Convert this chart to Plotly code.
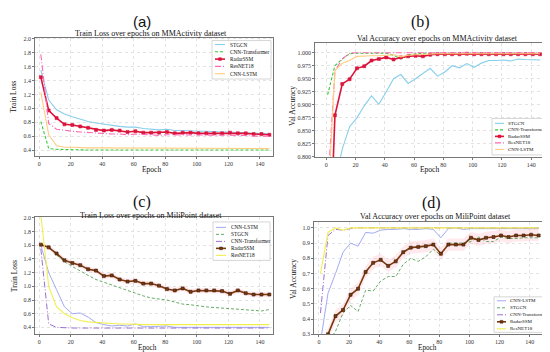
import plotly.graph_objects as go

W, H = 550, 352
epochs = list(range(1, 147, 5))

# ---------- (a) Train loss, MMActivity ----------
a_stgcn = [1.55, 1.12, 0.98, 0.92, 0.88, 0.84, 0.81, 0.79, 0.77, 0.75,
           0.74, 0.73, 0.73, 0.71, 0.70, 0.69, 0.70, 0.68, 0.68, 0.67,
           0.67, 0.67, 0.66, 0.66, 0.66, 0.65, 0.65, 0.64, 0.64, 0.63]
a_trans = [0.81, 0.42, 0.41, 0.405, 0.40, 0.40, 0.40, 0.40, 0.40, 0.40,
           0.40, 0.40, 0.40, 0.40, 0.40, 0.40, 0.40, 0.40, 0.40, 0.40,
           0.40, 0.40, 0.40, 0.40, 0.40, 0.40, 0.40, 0.40, 0.40, 0.40]
a_radar = [1.45, 0.97, 0.86, 0.77, 0.76, 0.74, 0.72, 0.69, 0.68, 0.69,
           0.68, 0.66, 0.67, 0.65, 0.65, 0.65, 0.66, 0.64, 0.65, 0.65,
           0.64, 0.64, 0.64, 0.64, 0.65, 0.64, 0.64, 0.63, 0.63, 0.62]
a_res = [1.78, 0.78, 0.70, 0.68, 0.67, 0.66, 0.65, 0.64, 0.64, 0.63,
         0.63, 0.62, 0.63, 0.62, 0.62, 0.61, 0.62, 0.62, 0.61, 0.61,
         0.61, 0.61, 0.61, 0.61, 0.61, 0.61, 0.61, 0.60, 0.60, 0.60]
a_lstm = [1.23, 0.62, 0.46, 0.44, 0.44, 0.43, 0.43, 0.43, 0.43, 0.43,
          0.43, 0.43, 0.43, 0.43, 0.43, 0.42, 0.42, 0.42, 0.42, 0.42,
          0.42, 0.42, 0.42, 0.42, 0.42, 0.42, 0.42, 0.42, 0.42, 0.42]

# ---------- (b) Val accuracy, MMActivity ----------
b_stgcn = [0.60, 0.75, 0.815, 0.858, 0.875, 0.898, 0.917, 0.901, 0.925, 0.950,
           0.958, 0.941, 0.950, 0.960, 0.970, 0.955, 0.963, 0.975, 0.971, 0.979,
           0.972, 0.980, 0.985, 0.985, 0.986, 0.984, 0.988, 0.987, 0.986, 0.986]
b_trans = [0.919, 0.975, 0.988, 0.998, 0.999, 0.999, 1.000, 0.999, 0.999, 0.995,
           0.988, 0.996, 0.998, 0.999, 0.999, 0.999, 0.999, 0.999, 0.999, 0.999,
           0.999, 0.999, 0.999, 0.999, 0.999, 0.999, 0.999, 0.999, 0.999, 0.999]
b_radar = [0.50, 0.880, 0.940, 0.949, 0.970, 0.974, 0.985, 0.988, 0.991, 0.987,
           0.991, 0.993, 0.994, 0.993, 0.996, 0.997, 0.997, 0.997, 0.997, 0.998,
           0.997, 0.997, 0.997, 0.997, 0.997, 0.997, 0.997, 0.997, 0.997, 0.997]
b_res = [0.74, 0.965, 0.988, 0.999, 1.000, 1.000, 1.000, 1.000, 1.000, 1.000,
         1.000, 1.000, 1.000, 1.000, 1.000, 1.000, 1.000, 1.000, 1.000, 1.000,
         1.000, 1.000, 1.000, 1.000, 1.000, 1.000, 1.000, 1.000, 1.000, 1.000]
b_lstm = [0.70, 0.965, 0.980, 0.985, 0.993, 0.994, 0.994, 0.994, 0.995, 0.996,
          0.992, 0.995, 0.996, 0.997, 0.998, 0.998, 0.998, 0.998, 0.998, 0.998,
          0.998, 0.998, 0.998, 0.998, 0.998, 0.998, 0.998, 0.998, 0.998, 0.998]

# ---------- (c) Train loss, MiliPoint ----------
c_lstm = [1.60, 1.20, 0.95, 0.70, 0.60, 0.61, 0.55, 0.47, 0.44, 0.42,
          0.43, 0.42, 0.45, 0.41, 0.41, 0.41, 0.42, 0.40, 0.40, 0.40,
          0.40, 0.40, 0.40, 0.40, 0.40, 0.40, 0.40, 0.40, 0.40, 0.40]
c_stgcn = [1.62, 1.57, 1.46, 1.36, 1.29, 1.22, 1.16, 1.10, 1.06, 1.01,
           0.98, 0.94, 0.89, 0.86, 0.83, 0.82, 0.80, 0.77, 0.74, 0.73,
           0.71, 0.70, 0.69, 0.68, 0.67, 0.67, 0.66, 0.65, 0.64, 0.66]
c_trans = [1.55, 0.45, 0.40, 0.39, 0.39, 0.39, 0.39, 0.39, 0.39, 0.39,
           0.39, 0.39, 0.39, 0.39, 0.39, 0.39, 0.39, 0.39, 0.39, 0.39,
           0.39, 0.39, 0.39, 0.39, 0.39, 0.39, 0.39, 0.39, 0.39, 0.39]
c_radar = [1.61, 1.57, 1.48, 1.38, 1.34, 1.31, 1.25, 1.23, 1.15, 1.16,
           1.10, 1.07, 1.08, 1.04, 1.04, 1.01, 0.96, 0.94, 0.97, 0.92,
           0.94, 0.94, 0.94, 0.93, 0.89, 0.94, 0.90, 0.88, 0.88, 0.88]
c_res = [2.05, 1.00, 0.70, 0.60, 0.54, 0.50, 0.48, 0.47, 0.46, 0.45,
         0.45, 0.45, 0.44, 0.44, 0.44, 0.44, 0.44, 0.44, 0.44, 0.44,
         0.44, 0.44, 0.44, 0.44, 0.44, 0.44, 0.44, 0.44, 0.44, 0.44]

# ---------- (d) Val accuracy, MiliPoint ----------
d_lstm = [0.25, 0.57, 0.70, 0.84, 0.90, 0.88, 0.97, 0.965, 0.985, 0.99,
          0.99, 0.995, 0.99, 0.99, 0.995, 0.99, 0.935, 0.995, 1.0, 0.99,
          0.995, 0.995, 0.995, 0.995, 0.995, 0.995, 0.995, 0.995, 0.995, 0.995]
d_stgcn = [0.15, 0.25, 0.32, 0.44, 0.49, 0.45, 0.59, 0.585, 0.65, 0.68,
           0.68, 0.76, 0.80, 0.78, 0.81, 0.86, 0.82, 0.90, 0.90, 0.90,
           0.91, 0.94, 0.91, 0.91, 0.94, 0.93, 0.93, 0.935, 0.935, 0.935]
d_trans = [0.44, 0.95, 0.99, 0.985, 0.995, 1.0, 1.0, 1.0, 1.0, 1.0,
           1.0, 1.0, 1.0, 1.0, 1.0, 1.0, 1.0, 1.0, 1.0, 1.0,
           1.0, 1.0, 1.0, 1.0, 1.0, 1.0, 1.0, 1.0, 1.0, 1.0]
d_radar = [0.20, 0.30, 0.42, 0.46, 0.56, 0.60, 0.71, 0.77, 0.79, 0.75,
           0.78, 0.84, 0.87, 0.875, 0.88, 0.89, 0.83, 0.89, 0.89, 0.89,
           0.935, 0.92, 0.935, 0.94, 0.95, 0.94, 0.95, 0.95, 0.955, 0.95]
d_res = [0.70, 0.97, 1.0, 0.985, 1.0, 1.0, 1.0, 1.0, 1.0, 1.0,
         1.0, 1.0, 1.0, 1.0, 1.0, 1.0, 1.0, 1.0, 1.0, 1.0,
         1.0, 1.0, 1.0, 1.0, 1.0, 1.0, 1.0, 1.0, 1.0, 1.0]

band_c = 0.04
band_d = 0.04

SERIF = "Liberation Serif"
SANS = "Liberation Sans"

sty_ab = {
    "STGCN": dict(color="#87CEEB", width=1.1, dash="solid", marker=False),
    "CNN-Transformer": dict(color="#33CC33", width=1.1, dash="3px,2px", marker=False),
    "RadarSSM": dict(color="#DC143C", width=1.6, dash="solid", marker=True),
    "ResNET18": dict(color="#FF69B4", width=1.1, dash="6px,2px,1px,2px", marker=False),
    "CNN-LSTM": dict(color="#FFCC80", width=1.1, dash="solid", marker=False),
}
sty_cd = {
    "CNN-LSTM": dict(color="#A3A9F2", width=1.0, dash="solid", marker=False),
    "STGCN": dict(color="#66AA66", width=1.0, dash="3px,2px", marker=False),
    "CNN-Transformer": dict(color="#9B6FD0", width=1.0, dash="6px,2px,1px,2px", marker=False),
    "RadarSSM": dict(color="#7A3A10", width=1.6, dash="solid", marker=True),
    "ResNET18": dict(color="#F2EE4E", width=1.1, dash="solid", marker=False),
}

def px(x):
    return x / W

def py(y):
    return 1 - y / H

fig = go.Figure()

panels = [
    ("", (27, 265), (28, 148), [-2.7, 148.3], [0.315, 2.02],
     [("STGCN", a_stgcn), ("CNN-Transformer", a_trans), ("RadarSSM", a_radar),
      ("ResNET18", a_res), ("CNN-LSTM", a_lstm)], sty_ab),
    ("2", (307, 540), (33, 149), [-7.6, 151.4], [0.8, 1.0195],
     [("STGCN", b_stgcn), ("CNN-Transformer", b_trans), ("RadarSSM", b_radar),
      ("ResNET18", b_res), ("CNN-LSTM", b_lstm)], sty_ab),
    ("3", (27, 265), (210, 329), [-2.7, 148.3], [0.298, 2.014],
     [("CNN-LSTM", c_lstm), ("STGCN", c_stgcn), ("CNN-Transformer", c_trans),
      ("RadarSSM", c_radar), ("ResNET18", c_res)], sty_cd),
    ("4", (306, 543), (215, 329), [-3.3, 154.2], [0.3, 1.039],
     [("CNN-LSTM", d_lstm), ("STGCN", d_stgcn), ("CNN-Transformer", d_trans),
      ("RadarSSM", d_radar), ("ResNET18", d_res)], sty_cd),
]

ytick_specs = [
    dict(tickvals=[0.4, 0.6, 0.8, 1.0, 1.2, 1.4, 1.6, 1.8, 2.0], tickformat=".1f"),
    dict(tickvals=[0.800, 0.825, 0.850, 0.875, 0.900, 0.925, 0.950, 0.975, 1.000], tickformat=".3f"),
    dict(tickvals=[0.4, 0.6, 0.8, 1.0, 1.2, 1.4, 1.6, 1.8, 2.0], tickformat=".1f"),
    dict(tickvals=[0.3, 0.4, 0.5, 0.6, 0.7, 0.8, 0.9, 1.0], tickformat=".1f"),
]

layout_axes = {}
for idx, (k, xd, yd, xr, yr, series, sty) in enumerate(panels):
    xa, ya = "x" + k, "y" + k
    if idx in (2, 3):
        radar = dict(series)["RadarSSM"]
        bw = band_c if idx == 2 else band_d
        fig.add_trace(go.Scatter(x=epochs, y=[v + bw for v in radar], mode="lines",
                                 line=dict(width=0), hoverinfo="skip", showlegend=False,
                                 xaxis=xa, yaxis=ya))
        fig.add_trace(go.Scatter(x=epochs, y=[v - bw for v in radar], mode="lines",
                                 line=dict(width=0), fill="tonexty",
                                 fillcolor="rgba(255,182,193,0.3)", hoverinfo="skip",
                                 showlegend=False, xaxis=xa, yaxis=ya))
    for name, vals in series:
        s = sty[name]
        fig.add_trace(go.Scatter(
            x=epochs, y=vals, name=name, showlegend=False,
            mode="lines+markers" if s["marker"] else "lines",
            line=dict(color=s["color"], width=s["width"], dash=s["dash"]),
            marker=dict(symbol="square", size=3, color=s["color"],
                        line=dict(width=0.6, color="#3a1a08" if idx >= 2 else s["color"])),
            xaxis=xa, yaxis=ya))
    axis_common = dict(showline=True, mirror=True, linecolor="#777777", linewidth=0.8,
                       showgrid=True, gridcolor="#e3e3e3", griddash="dot", gridwidth=0.6,
                       ticks="outside", ticklen=2, tickwidth=0.6, tickcolor="#777777",
                       zeroline=False, tickfont=dict(family=SERIF, size=6, color="#333333"))
    layout_axes["xaxis" + k] = dict(axis_common, domain=[px(xd[0]), px(xd[1])], range=xr,
                                    anchor=ya, tickvals=[0, 20, 40, 60, 80, 100, 120, 140])
    layout_axes["yaxis" + k] = dict(axis_common, domain=[py(yd[1]), py(yd[0])], range=yr,
                                    anchor=xa, **ytick_specs[idx])

fig.update_layout(width=W, height=H, margin=dict(l=0, r=0, t=0, b=0),
                  paper_bgcolor="white", plot_bgcolor="white", showlegend=False,
                  **layout_axes)

def ann(x, y, text, size, family=SERIF, angle=0, xanchor="center"):
    fig.add_annotation(x=px(x), y=py(y), xref="paper", yref="paper", text=text,
                       showarrow=False, xanchor=xanchor, yanchor="middle", textangle=angle,
                       borderpad=0, font=dict(family=family, size=size, color="#111111"))

ann(134, 12, "(a)", 15, family=SANS)
ann(412, 12, "(b)", 16)
ann(134, 195, "(c)", 16)
ann(423, 196, "(d)", 16)
ann(143, 24, "Train Loss over epochs on MMActivity dataset", 8)
ann(429, 29, "Val Accuracy over epochs on MMActivity dataset", 8)
ann(143, 208, "Train Loss over epochs on MiliPoint dataset", 8)
ann(427, 209, "Val Accuracy over epochs on MiliPoint dataset", 8)
ann(6, 88, "Train Loss", 7.5, angle=-90)
ann(143, 162, "Epoch", 7.5)
ann(284.5, 97, "Val Accuracy", 7.5, angle=-90)
ann(421, 162, "Epoch", 7.5)
ann(6, 270, "Train Loss", 7.5, angle=-90)
ann(140, 343, "Epoch", 7.2)
ann(285, 273, "Val Accuracy", 7.5, angle=-90)
ann(419, 343, "Epoch", 7.2)

def legend(box, names, sty, xline, xtext, yfirst, dy, fsize):
    x0, y0, x1, y1 = box
    fig.add_shape(type="rect", xref="paper", yref="paper", x0=px(x0), x1=px(x1),
                  y0=py(y1), y1=py(y0), line=dict(color="#cccccc", width=0.8),
                  fillcolor="rgba(255,255,255,0.85)", layer="above")
    for i, name in enumerate(names):
        s = sty[name]
        y = yfirst + i * dy
        fig.add_shape(type="line", xref="paper", yref="paper", x0=px(xline[0]), x1=px(xline[1]),
                      y0=py(y), y1=py(y), layer="above",
                      line=dict(color=s["color"], width=s["width"], dash=s["dash"]))
        if s["marker"]:
            xc = (xline[0] + xline[1]) / 2
            fig.add_shape(type="rect", xref="paper", yref="paper", x0=px(xc - 1.4), x1=px(xc + 1.4),
                          y0=py(y + 1.4), y1=py(y - 1.4), layer="above", fillcolor=s["color"],
                          line=dict(width=0.5, color="#3a1a08" if sty is sty_cd else s["color"]))
        ann(xtext, y, name, fsize, xanchor="left")

names_ab = ["STGCN", "CNN-Transformer", "RadarSSM", "ResNET18", "CNN-LSTM"]
names_cd = ["CNN-LSTM", "STGCN", "CNN-Transformer", "RadarSSM", "ResNET18"]
legend((204, 31, 263, 70), names_ab, sty_ab, (207, 217), 221, 35, 7.4, 5.3)
legend((484, 110, 539, 147), names_ab, sty_ab, (487, 496), 499, 115, 6.6, 5.0)
legend((205, 215, 262, 254), names_cd, sty_cd, (208, 218), 222, 220.5, 7.1, 5.3)
legend((486, 291, 541, 327), names_cd, sty_cd, (489, 498), 501, 295, 7.1, 5.0)

fig.write_html("out.html")
